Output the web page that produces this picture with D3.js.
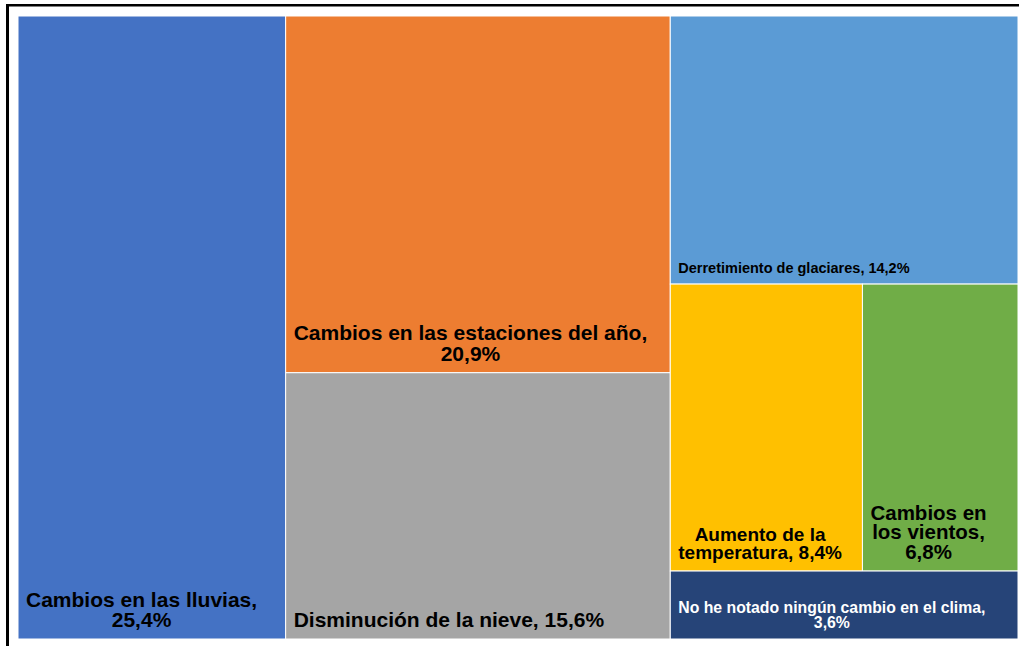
<!DOCTYPE html>
<html>
<head>
<meta charset="utf-8">
<script src="https://cdn.jsdelivr.net/npm/d3@7"></script>
<style>
  html, body { margin: 0; padding: 0; background: #fff; }
  svg { display: block; }
</style>
</head>
<body>
<div class="chart"></div>
<script>
// data
const categories = [
    "Cambios en las lluvias",
    "Cambios en las estaciones del año",
    "Disminución de la nieve",
    "Derretimiento de glaciares",
    "Aumento de la temperatura",
    "Cambios en los vientos",
    "No he notado ningún cambio en el clima"
]
const values = [25.4, 20.9, 15.6, 14.2, 8.4, 6.8, 3.6]
const valueLabels = ["25,4%", "20,9%", "15,6%", "14,2%", "8,4%", "6,8%", "3,6%"]

// how the cells are nested (columns, then rows inside them)
const groups = [[0], [1, 2], [3, [4, 5], 6]]

const colors = ["#4472C4", "#ED7D31", "#A5A5A5", "#5B9BD5", "#FFC000", "#70AD47", "#264478"]
const textColors = ["#000", "#000", "#000", "#000", "#000", "#000", "#fff"]
const fontSizes = [21, 21, 21, 14.5, 19, 20.5, 15.8]

var width = 1019
var height = 646
var plot = { x: 18, y: 16, w: 1000, h: 623 }

var svg = d3.select('.chart')
    .append('svg')
    .attr('width', width)
    .attr('height', height)

// frame lines on top and left
svg.append('line')
    .attr('x1', 6).attr('x2', width)
    .attr('y1', 5.2).attr('y2', 5.2)
    .attr('stroke', '#000').attr('stroke-width', 2.6)
svg.append('line')
    .attr('x1', 7.5).attr('x2', 7.5)
    .attr('y1', 4).attr('y2', height)
    .attr('stroke', '#000').attr('stroke-width', 3)

// turn the groups into a tree
function build(g) {
    if (Array.isArray(g)) return { children: g.map(build) }
    return { index: g, name: categories[g], value: values[g] }
}
const root = d3.hierarchy(build(groups))
    .sum(d => d.value || 0)

d3.treemap()
    .tile(d3.treemapSliceDice)
    .size([plot.w, plot.h])(root)

var chart = svg.append('g').attr('transform', `translate(${plot.x}, ${plot.y})`)

const cells = chart.selectAll('g.cell')
    .data(root.leaves())
    .enter()
    .append('g')
    .attr('class', 'cell')

cells.append('rect')
    .attr('x', d => d.x0)
    .attr('y', d => d.y0)
    .attr('width', d => d.x1 - d.x0)
    .attr('height', d => d.y1 - d.y0)
    .attr('fill', d => colors[d.data.index])
    .attr('stroke', '#fff')
    .attr('stroke-width', 1)

// labels: wrap words to the cell width, stack at the bottom left
cells.each(function (d) {
    const i = d.data.index
    const size = fontSizes[i]
    const pad = 8
    const maxW = d.x1 - d.x0 - pad * 2
    const words = (categories[i] + ", " + valueLabels[i]).split(' ')

    const text = d3.select(this).append('text')
        .style('font-family', '"Liberation Sans", Arial, Helvetica, sans-serif')
        .style('font-weight', 'bold')
        .style('font-size', size + 'px')
        .attr('fill', textColors[i])

    const probe = text.append('tspan')
    function measure(s) {
        probe.text(s)
        return probe.node().getComputedTextLength()
    }
    let lines = []
    let cur = ''
    words.forEach(w => {
        const t = cur ? cur + ' ' + w : w
        if (cur && measure(t) > maxW) {
            lines.push(cur)
            cur = w
        } else {
            cur = t
        }
    })
    lines.push(cur)
    const widths = lines.map(measure)
    probe.remove()

    const blockW = d3.max(widths)
    const cx = d.x0 + pad + blockW / 2
    const lineH = size * 0.96
    const bottom = d.y1 - (0.2 * size + 8)

    lines.forEach((l, k) => {
        text.append('tspan')
            .attr('x', cx)
            .attr('y', bottom - (lines.length - 1 - k) * lineH)
            .attr('text-anchor', 'middle')
            .text(l)
    })
})
</script>
</body>
</html>
